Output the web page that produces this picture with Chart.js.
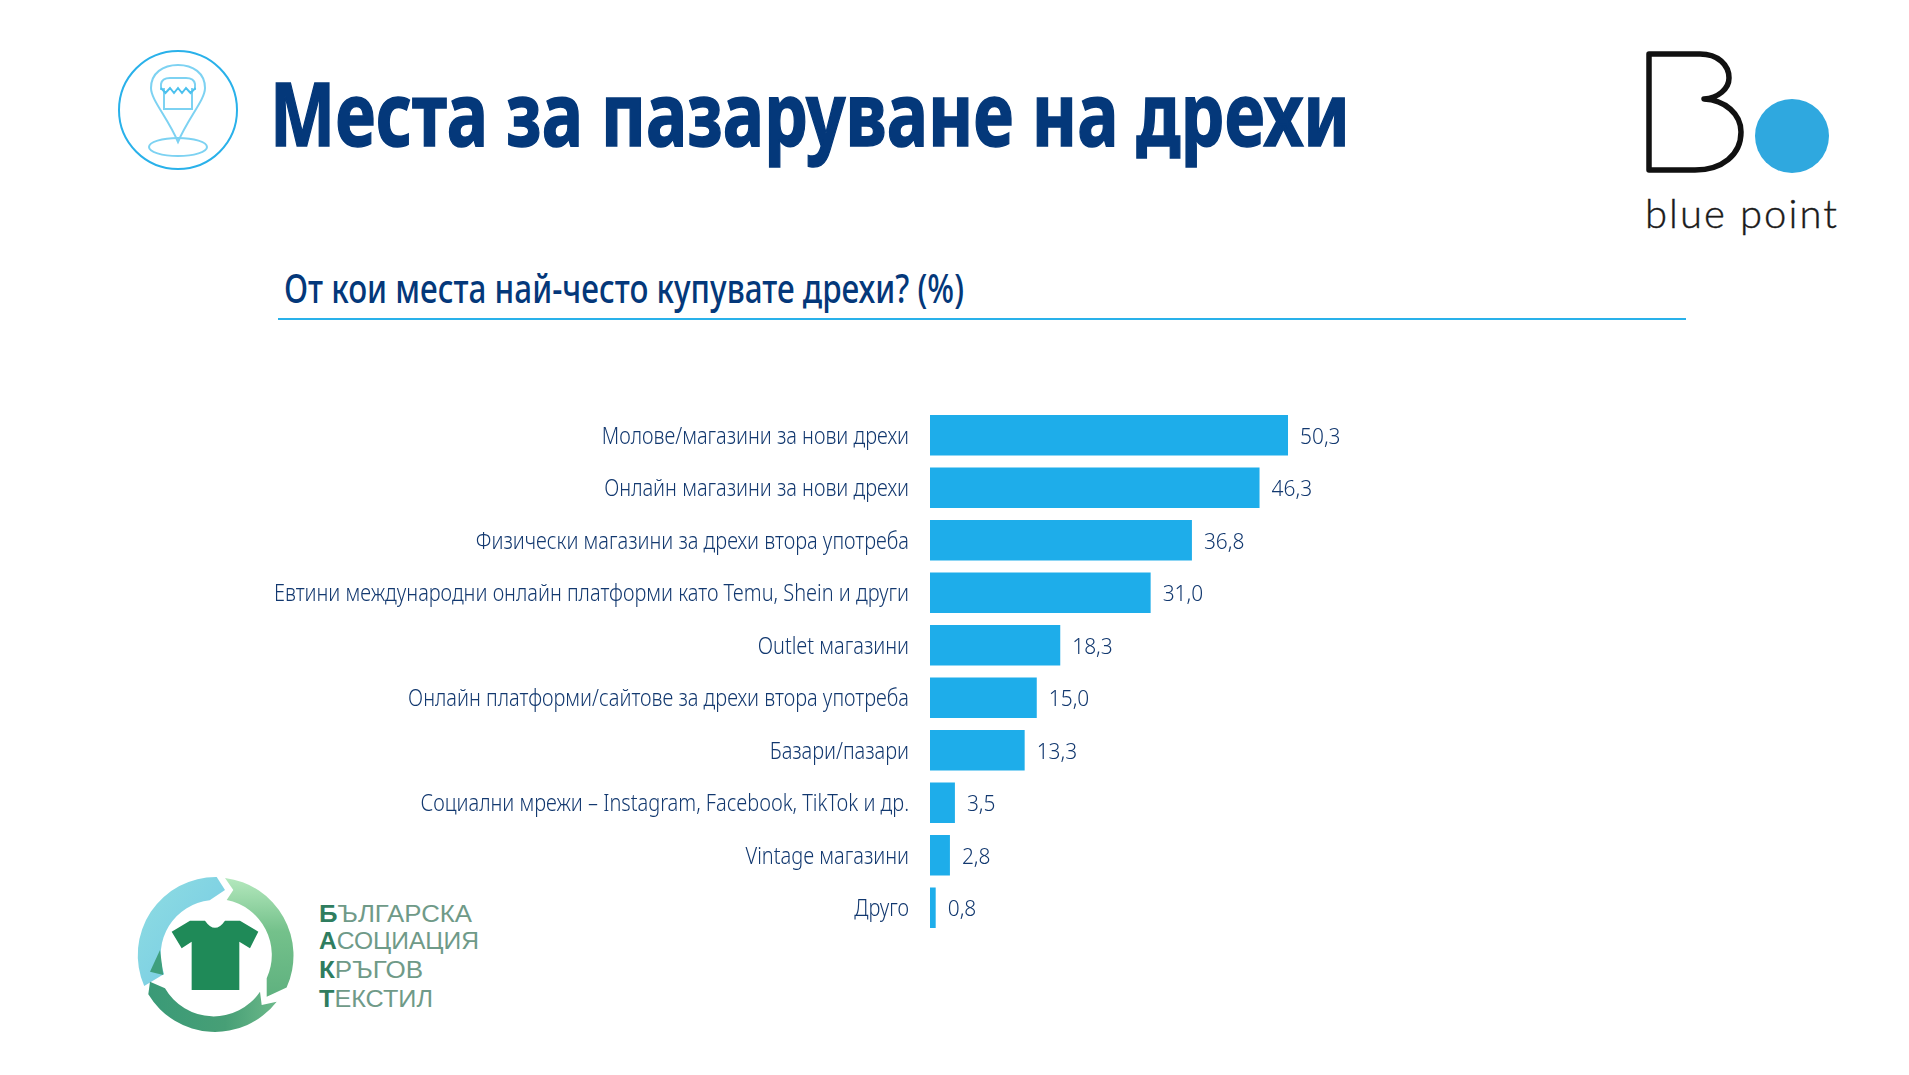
<!DOCTYPE html>
<html lang="bg">
<head>
<meta charset="utf-8">
<title>Места за пазаруване на дрехи</title>
<script src="https://cdn.jsdelivr.net/npm/chart.js@4"></script>
<style>
    html, body { margin: 0; padding: 0; background: #fff; overflow: hidden; }
    #page { position: relative; width: 1909px; height: 1075px; }
    #decor, #chart { position: absolute; left: 0; top: 0; }
</style>
</head>
<body>
<div id="page">
<svg id="decor" width="1909" height="1075" viewBox="0 0 1909 1075" xmlns="http://www.w3.org/2000/svg">
    <defs>
        <linearGradient id="gBlue" x1="0" y1="0" x2="1" y2="1">
            <stop offset="0" stop-color="#8fdde2"/><stop offset="1" stop-color="#74c9e4"/>
        </linearGradient>
        <linearGradient id="gGreen" x1="0" y1="0" x2="0" y2="1">
            <stop offset="0" stop-color="#b4e8bd"/><stop offset=".45" stop-color="#74c18b"/><stop offset="1" stop-color="#5fb17f"/>
        </linearGradient>
        <linearGradient id="gDark" x1="0" y1="0" x2="1" y2="0">
            <stop offset="0" stop-color="#3a9a77"/><stop offset=".6" stop-color="#479f76"/><stop offset="1" stop-color="#6cb98a"/>
        </linearGradient>
    </defs>

    <!-- pin icon -->
    <circle cx="178" cy="110" r="59" fill="none" stroke="#29b1ea" stroke-width="2"/>
    <g fill="none" stroke="#7dd2f2" stroke-width="2">
        <path d="M178,142 C168,118 151,100 151,88 C151,73 163,65 178,65 C193,65 205,73 205,88 C205,100 188,118 178,142 Z"/>
        <ellipse cx="178" cy="147" rx="29" ry="9"/>
        <path d="M161,90 V84 Q162,78 170,78 H186 Q194,78 195,84 V90 M164,88 V109 H192 V88"/>
        <path d="M161,88 l4.500,5 4.500,-5 4,5 4,-5 4,5 4,-5 4.500,5 5,-5" stroke="#4cc1ee"/>
    </g>

    <text id="mainTitle" x="270" y="146" font-family="'Noto Sans'" font-weight="700" font-size="87" fill="#04387a" stroke="#04387a" stroke-width="1.5" textLength="1080" lengthAdjust="spacingAndGlyphs">Места за пазаруване на дрехи</text>
    <text id="subTitle" x="284" y="303" font-family="'Noto Sans'" font-weight="500" font-size="40" fill="#04387a" textLength="680" lengthAdjust="spacingAndGlyphs">От кои места най-често купувате дрехи? (%)</text>
    <rect x="278" y="318" width="1408" height="2" fill="#29b1ea"/>

    <!-- blue point logo -->
    <path d="M1649,54 H1700 C1718,54 1729,65 1729,78 C1729,89 1718,98 1704,99 C1725,100 1741,114 1741,132 C1741,155 1722,170 1695,170 H1649 Z" fill="none" stroke="#111" stroke-width="5.5" stroke-linejoin="round" stroke-linecap="round"/>
    <circle cx="1792" cy="136" r="37" fill="#2fa8df"/>
    <text x="1645" y="228" font-family="Lato" font-weight="300" font-size="40" fill="#1a1a1a" stroke="#1a1a1a" stroke-width="0.4" textLength="192" lengthAdjust="spacing">blue point</text>

    <!-- circular textile logo -->
    <path d="M216.700,877 L225,890 L209.700,900.300 A55,55 0 0 0 164.100,974.100 L144.200,986 A78,78 0 0 1 216.700,877 Z" fill="url(#gBlue)"/>
    <path d="M160,950 L163.300,975 L150,971.700 Z" fill="#3f9f7d"/>
    <path d="M225,878 A78,78 0 0 1 286.600,987.500 L266.700,996.700 L266.700,978.300 A56,56 0 0 0 226.700,900 L233.300,890 Z" fill="url(#gGreen)"/>
    <path d="M150,981.700 L165,988.300 A56,56 0 0 0 260,991.700 L261.700,1005 L276.700,1001.700 A78,78 0 0 1 148.300,994.300 Z" fill="url(#gDark)"/>
    <g transform="translate(110,860) scale(0.3333)">
        <path d="M185,215 L240,182 H285 Q315,225 345,182 H390 L445,215 L420,265 L388,245 V390 H245 V245 L215,265 Z" fill="#1f8a58"/>
    </g>
    <g font-family="'Liberation Sans'" font-size="24" fill="#6f9a88">
        <text x="319" y="922" textLength="153" lengthAdjust="spacingAndGlyphs"><tspan font-weight="700" fill="#2f7d5f">Б</tspan>ЪЛГАРСКА</text>
        <text x="319" y="949" textLength="160" lengthAdjust="spacingAndGlyphs"><tspan font-weight="700" fill="#2f7d5f">А</tspan>СОЦИАЦИЯ</text>
        <text x="319" y="978" textLength="104" lengthAdjust="spacingAndGlyphs"><tspan font-weight="700" fill="#2f7d5f">К</tspan>РЪГОВ</text>
        <text x="319" y="1007" textLength="114" lengthAdjust="spacingAndGlyphs"><tspan font-weight="700" fill="#2f7d5f">Т</tspan>ЕКСТИЛ</text>
    </g>
</svg>
<canvas id="chart" width="1909" height="1075"></canvas>
</div>

<script>
const categories = [
    'Молове/магазини за нови дрехи',
    'Онлайн магазини за нови дрехи',
    'Физически магазини за дрехи втора употреба',
    'Евтини международни онлайн платформи като Temu, Shein и други',
    'Outlet магазини',
    'Онлайн платформи/сайтове за дрехи втора употреба',
    'Базари/пазари',
    'Социални мрежи – Instagram, Facebook, TikTok и др.',
    'Vintage магазини',
    'Друго'
];
const shares = [50.3, 46.3, 36.8, 31.0, 18.3, 15.0, 13.3, 3.5, 2.8, 0.8];

const barColor = '#1eadea';
const inkColor = '#12386f';

// squeezed text, nothing installed is as narrow as the original font
function narrowText(ctx, text, x, y, squeeze) {
    ctx.save();
    ctx.translate(x, y);
    ctx.scale(squeeze, 1);
    ctx.fillText(text, 0, 0);
    ctx.restore();
}

// category names and value labels, both placed from the chart's own scales
const barLabels = {
    id: 'barLabels',
    afterDatasetsDraw(chart) {
        const ctx = chart.ctx;
        const yAxis = chart.scales.y;
        ctx.save();
        ctx.fillStyle = inkColor;
        ctx.textBaseline = 'middle';

        ctx.font = '300 23px "Noto Sans"';
        ctx.textAlign = 'right';
        categories.forEach((name, i) => {
            narrowText(ctx, name, yAxis.right - 21, yAxis.getPixelForTick(i) + 2, 0.868);
        });

        ctx.font = '300 22px "Noto Sans"';
        ctx.textAlign = 'left';
        chart.getDatasetMeta(0).data.forEach((bar, i) => {
            narrowText(ctx, shares[i].toFixed(1).replace('.', ','), bar.x + 12, bar.y + 2, 0.95);
        });
        ctx.restore();
    }
};

new Chart(document.getElementById('chart').getContext('2d'), {
    type: 'bar',
    data: {
        labels: categories,
        datasets: [{
            data: shares,
            backgroundColor: barColor,
            categoryPercentage: 1,
            barPercentage: 0.768
        }]
    },
    plugins: [barLabels],
    options: {
        indexAxis: 'y',
        responsive: false,
        animation: false,
        layout: {
            padding: { top: 409, bottom: 141, left: 0, right: 409.6 }
        },
        plugins: {
            legend: { display: false },
            tooltip: { enabled: false }
        },
        scales: {
            x: {
                display: false,
                min: 0,
                max: 80
            },
            y: {
                afterFit: scale => { scale.width = 930; },
                grid: { display: false, drawTicks: false },
                border: { display: false },
                ticks: { display: false, autoSkip: false }
            }
        }
    }
});
</script>
</body>
</html>
